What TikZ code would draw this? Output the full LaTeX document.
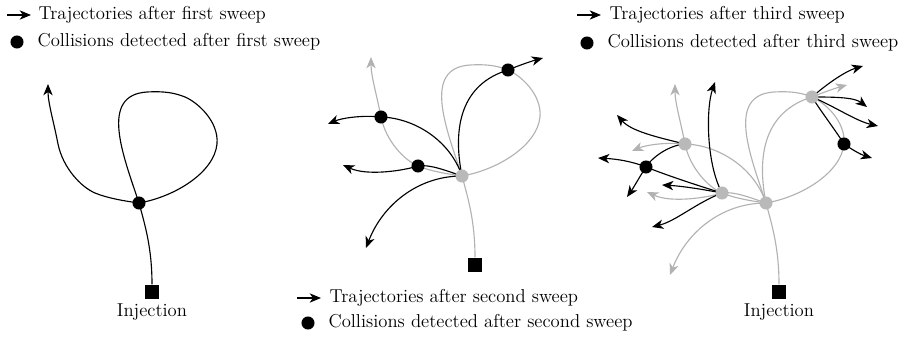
\documentclass[tikz,border=0pt]{standalone}
\usetikzlibrary{arrows.meta,positioning}

\definecolor{oldgrey}{RGB}{178,178,178}
\definecolor{dotgrey}{RGB}{185,185,185}

\tikzset{every picture/.style={line width=0.85pt}}
\tikzset{
  traj/.style={draw=black,-{Stealth[length=8.5pt,width=7pt,inset=2.5pt]}},
  oldtraj/.style={draw=oldgrey,-{Stealth[length=8.5pt,width=7pt,inset=2.5pt]}},
  hit/.style={circle,fill=black,inner sep=0pt,minimum size=9.8pt},
  oldhit/.style={hit,fill=dotgrey},
  injbox/.style={fill=black,inner sep=0pt,minimum width=11pt,minimum height=10.5pt},
  lbl/.style={font=\fontsize{14}{16}\selectfont,inner sep=0pt,anchor=west}
}

\newcommand{\sweeppoints}{%
  \coordinate (c0) at (0,0);
  \coordinate (top) at (8,-111);
  \coordinate (b) at (-44,-10);
  \coordinate (c) at (-81,-59);
  \coordinate (d) at (46,-106);
  \coordinate (e) at (-120,-36);
  \coordinate (f) at (78,-59);
  \coordinate (tl) at (-91,-119);
  \coordinate (tc) at (-134,-52);
  \coordinate (tb) at (-119,-11);
  \coordinate (tsw) at (-96,72);
  \coordinate (td) at (81,-118);
  \node[injbox] (inj) at (13,89) {};
}

\newcommand{\firstsweep}[1]{%
  \draw[#1] (inj) .. controls (13,45) and (6,22) .. (c0)
    .. controls (-16,-48) and (-40,-108) .. (top)
    .. controls (26,-112) and (36,-110) .. (d)
    .. controls (58,-101) and (80,-82) .. (f)
    .. controls (75,-30) and (35,-6) .. (c0)
    .. controls (-15,-2) and (-32,-5) .. (b)
    .. controls (-58,-16) and (-76,-35) .. (c)
    .. controls (-85,-80) and (-91,-100) .. (tl);
}

\newcommand{\secondsweep}[1]{%
  \draw[#1] (c0) .. controls (-12,-36) and (-48,-58) .. (c) .. controls (-100,-61) and (-120,-58) .. (tc);
  \draw[#1] (c0) .. controls (-15,-5) and (-32,-12) .. (b) .. controls (-60,-5) and (-95,0) .. (tb);
  \draw[#1] (c0) .. controls (-45,0) and (-80,30) .. (tsw);
  \draw[#1] (c0) .. controls (-10,-50) and (0,-92) .. (d) .. controls (58,-111) and (70,-115) .. (td);
}

\newcommand{\thirdsweep}[1]{%
  \draw[#1] (c) .. controls (-95,-58) and (-112,-48) .. (e) .. controls (-126,-27) and (-132,-16) .. (-139,-6);
  \draw[#1] (c) .. controls (-110,-66) and (-135,-72) .. (-149,-88);
  \draw[#1] (b) .. controls (-70,-18) and (-100,-28) .. (e) .. controls (-135,-42) and (-150,-44) .. (-168,-45);
  \draw[#1] (b) .. controls (-60,-40) and (-60,-95) .. (-51,-121);
  \draw[#1] (b) .. controls (-65,-14) and (-85,-17) .. (-104,-18);
  \draw[#1] (b) .. controls (-70,0) and (-90,18) .. (-114,24);
  \draw[#1] (d) .. controls (62,-120) and (80,-132) .. (97,-137);
  \draw[#1] (d) .. controls (65,-106) and (88,-106) .. (101,-96);
  \draw[#1] (d) .. controls (66,-98) and (90,-82) .. (112,-77);
  \draw[#1] (d) .. controls (56,-90) and (70,-72) .. (f) .. controls (88,-52) and (96,-48) .. (106,-45);
}

\begin{document}
\begin{tikzpicture}[x=0.75pt,y=0.75pt,yscale=-1,xscale=1]
  \useasboundingbox (0,0) rectangle (914,339);

  \begin{scope}[shift={(139,203)},name prefix=pa-]
    \sweeppoints
    \firstsweep{traj}
    \node[hit] (n0) at (c0) {};
    \node[lbl,below=3pt of inj] (injlbl) {Injection};
  \end{scope}

  \begin{scope}[shift={(462,176)},name prefix=pb-]
    \sweeppoints
    \firstsweep{oldtraj}
    \secondsweep{traj}
    \node[oldhit] (n0) at (c0) {};
    \node[hit] (nb) at (b) {};
    \node[hit] (nc) at (c) {};
    \node[hit] (nd) at (d) {};
  \end{scope}

  \begin{scope}[shift={(766,203)},name prefix=pc-]
    \sweeppoints
    \firstsweep{oldtraj}
    \secondsweep{oldtraj}
    \thirdsweep{traj}
    \node[oldhit] (n0) at (c0) {};
    \node[oldhit] (nb) at (b) {};
    \node[oldhit] (nc) at (c) {};
    \node[oldhit] (nd) at (d) {};
    \node[hit] (ne) at (e) {};
    \node[hit] (nf) at (f) {};
    \node[lbl,below=3pt of inj] (injlbl) {Injection};
  \end{scope}

  \draw[traj] (7,15) -- (31,15);
  \node[lbl] (keya1) at (38,15) {Trajectories after first sweep};
  \node[hit] (keyd1) at (17,42) {};
  \node[lbl] (keya2) at (37,42) {Collisions detected after first sweep};

  \draw[traj] (297,298) -- (321,298);
  \node[lbl] (keyb1) at (329,298) {Trajectories after second sweep};
  \node[hit] (keyd2) at (308,323) {};
  \node[lbl] (keyb2) at (328,323) {Collisions detected after second sweep};

  \draw[traj] (577,15) -- (601,15);
  \node[lbl] (keyc1) at (609,15) {Trajectories after third sweep};
  \node[hit] (keyd3) at (587,43) {};
  \node[lbl] (keyc2) at (607,43) {Collisions detected after third sweep};
\end{tikzpicture}
\end{document}
